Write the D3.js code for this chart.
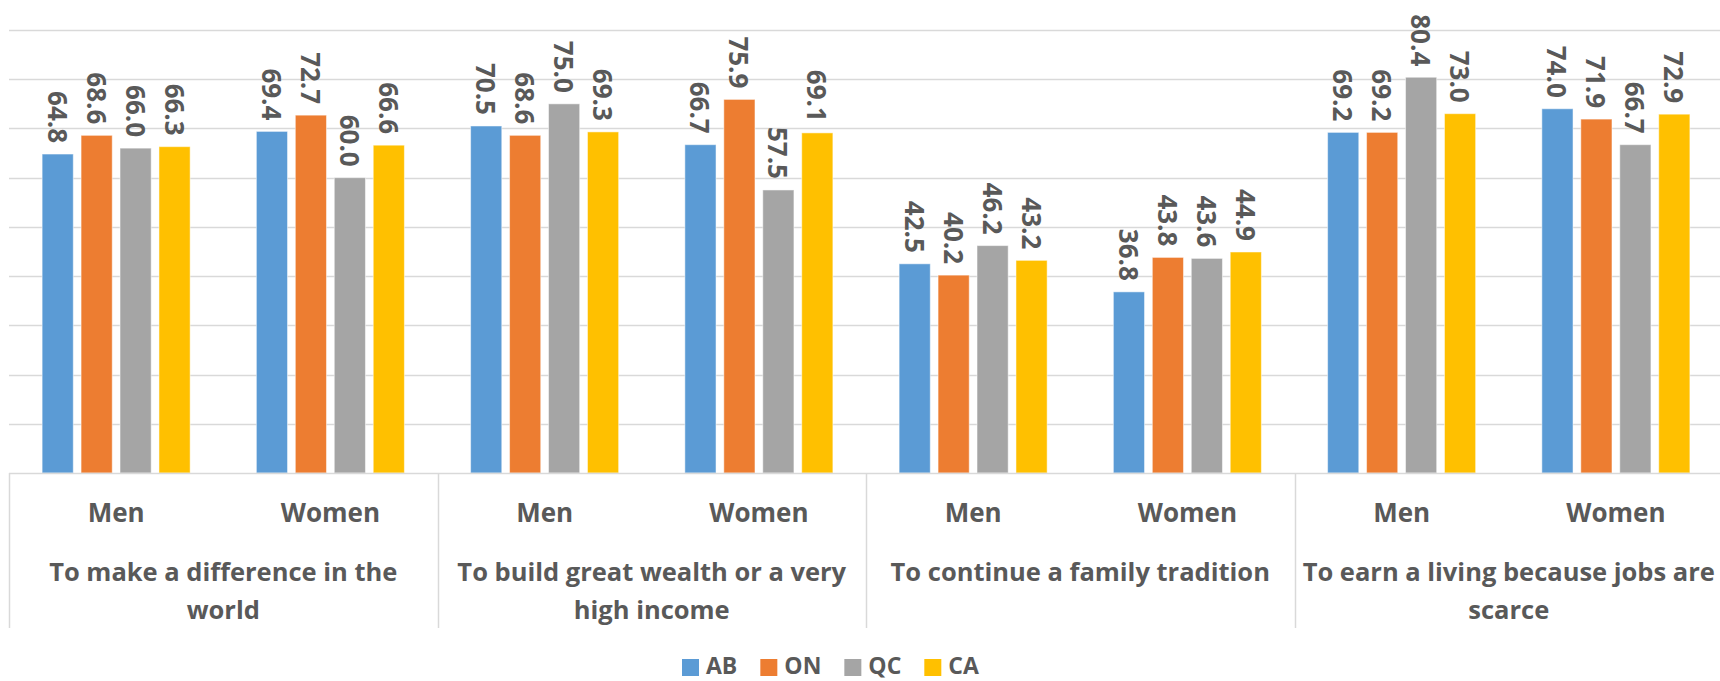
<!DOCTYPE html>
<html>
<head>
<meta charset="utf-8">
<script src="https://cdn.jsdelivr.net/npm/d3@7"></script>
<style>
  html, body { margin: 0; padding: 0; background: #fff; }
  svg { display: block; }
  text { font-family: "Open Sans", sans-serif; font-weight: bold; fill: #595959; }
</style>
</head>
<body>
<svg id="chart" width="1720" height="681"></svg>
<script>
const series = ["AB", "ON", "QC", "CA"];
const seriesColors = ["#5B9BD5", "#ED7D31", "#A5A5A5", "#FFC000"];
const groups = [
  ["To make a difference in the", "world"],
  ["To build great wealth or a very", "high income"],
  ["To continue a family tradition"],
  ["To earn a living because jobs are", "scarce"]
];
const genders = ["Men", "Women"];
const valuesAB = [64.8, 69.4, 70.5, 66.7, 42.5, 36.8, 69.2, 74.0];
const valuesON = [68.6, 72.7, 68.6, 75.9, 40.2, 43.8, 69.2, 71.9];
const valuesQC = [66.0, 60.0, 75.0, 57.5, 46.2, 43.6, 80.4, 66.7];
const valuesCA = [66.3, 66.6, 69.3, 69.1, 43.2, 44.9, 73.0, 72.9];
const yTicks = [0, 10, 20, 30, 40, 50, 60, 70, 80, 90];

const seriesValues = [valuesAB, valuesON, valuesQC, valuesCA];
const rows = [];
groups.forEach((g, gi) => genders.forEach((s, si) => {
  const idx = gi * genders.length + si;
  rows.push({ key: idx, group: gi, gender: s,
    vals: series.map((name, k) => ({ name, k, v: seriesValues[k][idx] })) });
}));

const svg = d3.select("#chart");
const plotLeft = 9, plotRight = 1723, plotBase = 473, plotTop = 30;

const y = d3.scaleLinear().domain([0, 90]).range([plotBase, plotTop]);
const x0 = d3.scaleBand().domain(rows.map(r => r.key)).range([plotLeft, plotRight]).padding(0);
const xg = d3.scaleBand().domain(groups.map((g, i) => i)).range([plotLeft, plotRight]).padding(0);
const x1 = d3.scaleBand().domain(series).range([0, x0.bandwidth()])
  .paddingInner(0.2).paddingOuter(0.85);
const color = d3.scaleOrdinal().domain(series).range(seriesColors);

// gridlines
svg.append("g").selectAll("line").data(yTicks.filter(t => t > 0)).join("line")
  .attr("x1", plotLeft).attr("x2", 1720)
  .attr("y1", d => Math.round(y(d)) + 0.5).attr("y2", d => Math.round(y(d)) + 0.5)
  .attr("stroke", "#d9d9d9").attr("stroke-width", 1.5);

// bars
const gRows = svg.append("g").selectAll("g").data(rows).join("g")
  .attr("transform", d => `translate(${x0(d.key)},0)`);
gRows.selectAll("rect").data(d => d.vals).join("rect")
  .attr("x", d => x1(d.name)).attr("width", x1.bandwidth())
  .attr("y", d => y(d.v)).attr("height", d => y(0) - y(d.v))
  .attr("fill", d => color(d.name))
  .attr("stroke", "#ffffff").attr("stroke-opacity", 0.5).attr("stroke-width", 1);
gRows.selectAll("text").data(d => d.vals).join("text")
  .attr("transform", d => `translate(${x1(d.name) + x1.bandwidth() / 2},${y(d.v) - 11}) rotate(90)`)
  .attr("text-anchor", "end").attr("dominant-baseline", "central")
  .style("font-size", "26px")
  .text(d => d.v.toFixed(1));

// category axis
svg.append("line").attr("x1", plotLeft).attr("x2", 1720).attr("y1", plotBase + 0.5).attr("y2", plotBase + 0.5)
  .attr("stroke", "#d9d9d9").attr("stroke-width", 1.5);
const seps = groups.map((g, i) => xg(i)).concat([plotRight]);
svg.append("g").selectAll("line").data(seps).join("line")
  .attr("x1", d => Math.round(d) + 0.5).attr("x2", d => Math.round(d) + 0.5)
  .attr("y1", plotBase).attr("y2", 628)
  .attr("stroke", "#d9d9d9").attr("stroke-width", 1.5);

svg.append("g").selectAll("text").data(rows).join("text")
  .attr("x", d => x0(d.key) + x0.bandwidth() / 2).attr("y", 522)
  .attr("text-anchor", "middle").style("font-size", "26px")
  .text(d => d.gender);

const gl = svg.append("g").selectAll("text").data(groups.map((g, i) => ({ lines: g, i }))).join("text")
  .attr("text-anchor", "middle").style("font-size", "25.5px");
gl.selectAll("tspan").data(d => d.lines.map(l => ({ l, i: d.i }))).join("tspan")
  .attr("x", d => xg(d.i) + xg.bandwidth() / 2)
  .attr("y", (d, j) => 581 + j * 37.5)
  .text(d => d.l);

// legend
const legend = svg.append("g").attr("transform", "translate(682,0)");
let lx = 0;
series.forEach((name) => {
  const item = legend.append("g").attr("transform", `translate(${lx},0)`);
  item.append("rect").attr("x", 0).attr("y", 659).attr("width", 17).attr("height", 17)
    .attr("fill", color(name));
  const t = item.append("text").attr("x", 24).attr("y", 674).style("font-size", "23px").text(name);
  lx += 24 + t.node().getComputedTextLength() + 23;
});
</script>
</body>
</html>
